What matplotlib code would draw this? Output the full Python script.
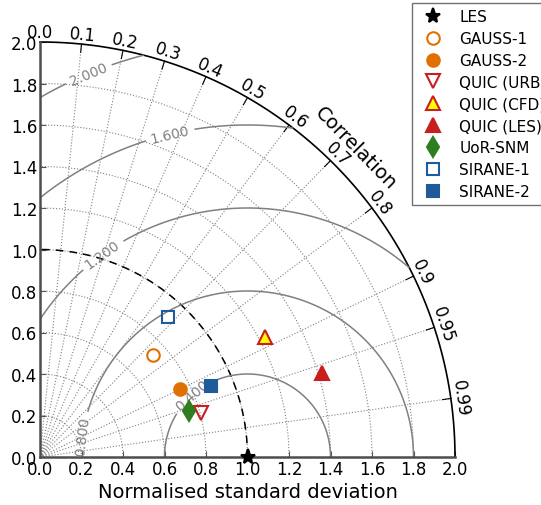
import numpy as np
import matplotlib
matplotlib.use("Agg")
import matplotlib.pyplot as plt

# Taylor diagram: normalised std and correlation of each model against LES

names = ['LES', 'GAUSS-1', 'GAUSS-2', 'QUIC (URB)', 'QUIC (CFD)', 'QUIC (LES)',
         'UoR-SNM', 'SIRANE-1', 'SIRANE-2']
stddev = [1.0, 0.733, 0.750, 0.805, 1.229, 1.418, 0.751, 0.914, 0.892]
corr = [1.0, 0.744, 0.900, 0.964, 0.882, 0.958, 0.955, 0.675, 0.924]

markers = ['*', 'o', 'o', 'v', '^', '^', 'd', 's', 's']
edge = ['k', '#e07000', '#e07000', '#c81e1e', '#c81e1e', '#c81e1e',
        '#2e7d1e', '#1f5a99', '#1f5a99']
face = ['k', 'none', '#e07000', 'none', '#ffff00', '#c81e1e',
        '#2e7d1e', 'none', '#1f5a99']
msize = [11, 9, 9, 10, 10, 10, 10, 9, 9]

corr_ticks = [0.0, 0.1, 0.2, 0.3, 0.4, 0.5, 0.6, 0.7, 0.8, 0.9, 0.95, 0.99]
std_ticks = np.arange(0, 2.01, 0.2)
rms_levels = [0.4, 0.8, 1.2, 1.6, 2.0]
smax = 2.0

fig = plt.figure(figsize=(5.41, 5.06), dpi=100)
ax = fig.add_axes([40/541, 48/506, 415/541, 415/506])
ax.set_xlim(0, smax)
ax.set_ylim(0, smax)
ax.set_aspect('equal')
ax.spines[['top', 'right']].set_visible(False)
for s in ['left', 'bottom']:
    ax.spines[s].set_color('0.3')
    ax.spines[s].set_linewidth(1.8)
ax.set_xticks(std_ticks)
ax.set_yticks(std_ticks)
ax.set_xticklabels(['%.1f' % v for v in std_ticks])
ax.set_yticklabels(['%.1f' % v for v in std_ticks])
ax.tick_params(direction='in', length=4, labelsize=12, color='0.3', pad=2)
ax.set_xlabel('Normalised standard deviation', fontsize=14, labelpad=3)

# grid: radial lines of correlation and arcs of std
t = np.linspace(0, np.pi/2, 300)
for c in corr_ticks:
    th = np.arccos(c)
    if c > 0:
        ax.plot([0, smax*np.cos(th)], [0, smax*np.sin(th)], ':', color='0.5', lw=0.8)
        ax.plot([0.98*smax*np.cos(th), smax*np.cos(th)],
                [0.98*smax*np.sin(th), smax*np.sin(th)], '-', color='k', lw=0.8)
    ax.text(1.024*smax*np.cos(th), 1.024*smax*np.sin(th), str(c),
            rotation=np.degrees(th) - 90, rotation_mode='anchor',
            ha='center', va='center', fontsize=12)
for r in std_ticks[1:-1]:
    ax.plot(r*np.cos(t), r*np.sin(t), ':', color='0.5', lw=0.8)

# outer arc
ax.plot(smax*np.cos(t), smax*np.sin(t), 'k-', lw=1.2, clip_on=False)
ax.text(2.13*np.cos(np.radians(44.5)), 2.13*np.sin(np.radians(44.5)), 'Correlation',
        rotation=-45.5, ha='center', va='center', fontsize=14)

# reference std
ax.plot(np.cos(t), np.sin(t), 'k--', lw=1.1, dashes=(5, 4))

# centred RMS contours
rs, ts = np.meshgrid(np.linspace(0, smax, 300), np.linspace(0, np.pi/2, 300))
X = rs*np.cos(ts)
Y = rs*np.sin(ts)
rms = np.sqrt(1.0 + rs**2 - 2*rs*np.cos(ts))
cs = ax.contour(X, Y, rms, levels=rms_levels, colors='0.5', linewidths=1.1)
ax.clabel(cs, inline=True, fmt='%.3f', fontsize=10,
          manual=[(0.735, 0.30), (0.207, 0.101), (0.304, 0.973),
                  (0.627, 1.556), (0.231, 1.855)])

# model points
for i in range(len(names)):
    th = np.arccos(corr[i])
    ax.plot(stddev[i]*np.cos(th), stddev[i]*np.sin(th), marker=markers[i],
            ls='none', ms=msize[i], mec=edge[i], mfc=face[i], mew=1.5,
            label=names[i], clip_on=False, zorder=5)

handles, labels = ax.get_legend_handles_labels()
leg = fig.legend(handles, labels, loc='upper left', bbox_to_anchor=(412/541, 1 - 4/506),
                 numpoints=1, fontsize=11, fancybox=False, edgecolor='0.3',
                 borderaxespad=0, labelspacing=0.45, handletextpad=0.7)
leg.get_frame().set_linewidth(1.0)

fig.savefig('out.png', dpi=100)
